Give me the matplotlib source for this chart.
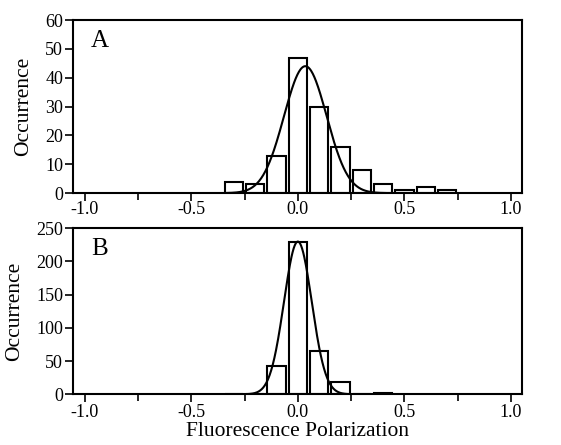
import numpy as np
import matplotlib
matplotlib.use('Agg')
import matplotlib.pyplot as plt

plt.rcParams['font.family'] = ['Liberation Serif', 'DejaVu Serif']

###################################
# Data

# bin centres (fluorescence polarization) and counts
centers_a = [-0.3, -0.2, -0.1, 0.0, 0.1, 0.2, 0.3, 0.4, 0.5, 0.6, 0.7]
counts_a = [4, 3, 13, 47, 30, 16, 8, 3, 1, 2, 1]

centers_b = [-0.3, -0.2, -0.1, 0.0, 0.1, 0.2, 0.3, 0.4]
counts_b = [1, 1, 42, 230, 65, 18, 1, 2]

# gaussian fits: amplitude, centre, sigma
fit_a = (44.0, 0.035, 0.10)
fit_b = (230.0, 0.0, 0.065)

bin_width = 0.085
xticks = [-1.0, -0.5, 0.0, 0.5, 1.0]
yticks_a = [0, 10, 20, 30, 40, 50, 60]
yticks_b = [0, 50, 100, 150, 200, 250]

###################################
# Plot

def gauss(x, amp, mu, sig):
    return amp * np.exp(-(x - mu) ** 2 / (2 * sig ** 2))

fig = plt.figure(figsize=(5.61, 4.45), dpi=100)
ax_a = fig.add_axes([0.130, 0.566, 0.800, 0.389])
ax_b = fig.add_axes([0.130, 0.114, 0.800, 0.373])

xs = np.linspace(-1.0, 1.0, 801)
panels = [
    (ax_a, centers_a, counts_a, fit_a, yticks_a, 'A'),
    (ax_b, centers_b, counts_b, fit_b, yticks_b, 'B'),
]

for ax, centers, counts, fit, yticks, letter in panels:
    ax.bar(centers, counts, width=bin_width, facecolor='white',
           edgecolor='black', linewidth=1.5, zorder=2)
    ax.plot(xs, gauss(xs, *fit), color='black', linewidth=1.5, zorder=3)
    ax.set_xlim(-1.055, 1.05)
    ax.set_ylim(yticks[0], yticks[-1])
    ax.set_xticks(xticks)
    ax.set_xticklabels(['{:.1f}'.format(t) for t in xticks])
    ax.set_xticks([-0.75, -0.25, 0.25, 0.75], minor=True)
    ax.set_yticks(yticks)
    ax.tick_params(axis='both', direction='out', labelsize=13, width=1.2,
                   length=6, pad=1)
    ax.tick_params(axis='x', which='minor', direction='out', width=1.2, length=5)
    for sp in ax.spines.values():
        sp.set_linewidth(1.5)
    ax.set_ylabel('Occurrence', fontsize=15.5)
    ax.text(0.04, 0.94, letter, transform=ax.transAxes, fontsize=18,
            ha='left', va='top')

ax_a.yaxis.set_label_coords(-0.089, 0.5)
ax_b.yaxis.set_label_coords(-0.109, 0.5)
ax_a.tick_params(axis='x', pad=0)
ax_b.set_xlabel('Fluorescence Polarization', fontsize=15.5, labelpad=1)

fig.savefig('out.png', dpi=100)
